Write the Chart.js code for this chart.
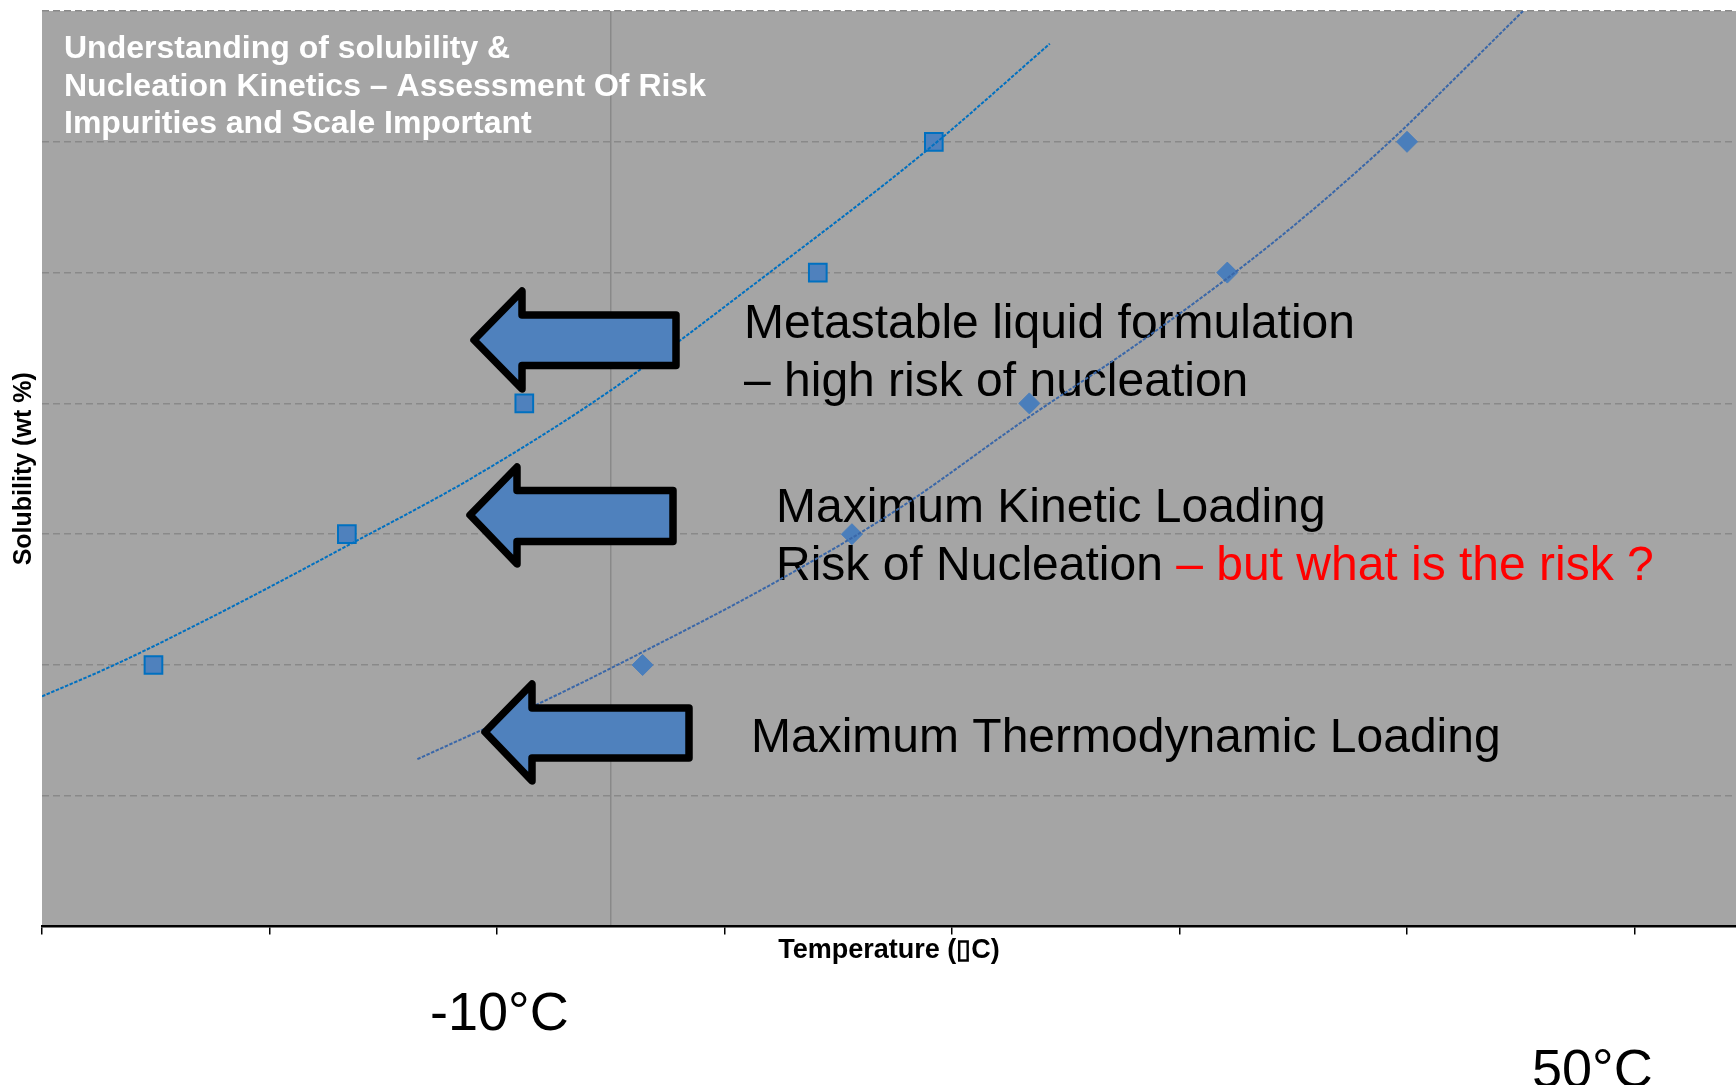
<!DOCTYPE html>
<html>
<head>
<meta charset="utf-8">
<title>Solubility vs temperature</title>
<script src="https://cdn.jsdelivr.net/npm/chart.js@4.4.0/dist/chart.umd.min.js"></script>
<style>
  html, body { margin: 0; padding: 0; background: #fff; overflow: hidden; }
  #wrap { position: relative; width: 1736px; height: 1085px; }
  #solChart { display: block; }
</style>
</head>
<body>
<div id="wrap"><canvas id="solChart"></canvas></div>
<script>
// Solubility (wt %) vs temperature
const xTicks = [-25, -15, -5, 5, 15, 25, 35, 45];
const axisCross = 0;

// squares - kinetic (metastable) limit
const kineticTemp = [-20.1, -11.6, -3.8, 9.1, 14.2];
const kineticSol = [2, 3, 4, 5, 6];
// diamonds - thermodynamic solubility
const thermoTemp = [1.4, 10.6, 18.4, 27.1, 35.0];
const thermoSol = [2, 3, 4, 5, 6];

// dotted trendlines
const kineticTrendTemp = [-25.0, -21.7, -17.5, -11.6, -6.0, 0.0, 6.9, 14.0, 19.3];
const kineticTrendSol = [1.76, 2.01, 2.37, 2.91, 3.44, 4.10, 4.99, 5.95, 6.75];
const thermoTrendTemp = [-8.5, -3.1, 1.3, 7.3, 12.7, 18.0, 23.6, 29.4, 34.3, 37.6, 40.1];
const thermoTrendSol = [1.28, 1.71, 2.09, 2.64, 3.20, 3.85, 4.51, 5.27, 6.01, 6.57, 7.00];

const FONT = "'Liberation Sans', Arial, sans-serif";

function toPoints(xs, ys) {
    return xs.map((x, i) => ({ x: x, y: ys[i] }));
}

// gray plot area like the Excel chart
const plotBackground = {
    id: 'plotBackground',
    beforeDraw(chart) {
        const { ctx, chartArea: a } = chart;
        ctx.save();
        ctx.fillStyle = '#A5A5A5';
        ctx.fillRect(a.left, a.top, a.right - a.left, a.bottom - a.top);
        ctx.restore();
    }
};

// slide texts (under the dotted lines) and block arrows (over them)
const slideTexts = [
    { text: 'Understanding of solubility &', x: 64, y: 58, size: 32, bold: true, color: '#fff' },
    { text: 'Nucleation Kinetics \u2013 Assessment Of Risk', x: 64, y: 95.5, size: 32, bold: true, color: '#fff' },
    { text: 'Impurities and Scale Important', x: 64, y: 133, size: 32, bold: true, color: '#fff' },
    { text: 'Metastable liquid formulation', x: 744, y: 338, size: 48, color: '#000' },
    { text: '\u2013 high risk of nucleation', x: 744, y: 396, size: 48, color: '#000' },
    { text: 'Maximum Kinetic Loading', x: 776, y: 522, size: 48, color: '#000' },
    { text: 'Risk of Nucleation ', x: 776, y: 580, size: 48, color: '#000', next: { text: '\u2013 but what is the risk ?', color: '#FF0000' } },
    { text: 'Maximum Thermodynamic Loading', x: 751, y: 752, size: 48, color: '#000' },
    { text: '-10\u00B0C', x: 430, y: 1030, size: 54, color: '#000' },
    { text: '50\u00B0C', x: 1532, y: 1087, size: 54, color: '#000' }
];

const arrows = [
    { tipX: 474, tipY: 340, headX: 522, headTop: 291, headBottom: 389, bodyTop: 315, bodyBottom: 365.5, right: 676 },
    { tipX: 470, tipY: 515, headX: 517, headTop: 467, headBottom: 564, bodyTop: 490.5, bodyBottom: 541.5, right: 673 },
    { tipX: 485, tipY: 732, headX: 532, headTop: 684, headBottom: 781, bodyTop: 708, bodyBottom: 758, right: 689 }
];

const slideOverlay = {
    id: 'slideOverlay',
    beforeDatasetsDraw(chart) {
        const ctx = chart.ctx;
        ctx.save();
        ctx.textBaseline = 'alphabetic';
        ctx.textAlign = 'left';
        slideTexts.forEach(t => {
            ctx.font = (t.bold ? 'bold ' : '') + t.size + 'px ' + FONT;
            ctx.fillStyle = t.color;
            ctx.fillText(t.text, t.x, t.y);
            if (t.next) {
                const w = ctx.measureText(t.text).width;
                ctx.fillStyle = t.next.color;
                ctx.fillText(t.next.text, t.x + w, t.y);
            }
        });
        ctx.restore();
    },
    afterDatasetsDraw(chart) {
        const ctx = chart.ctx;
        ctx.save();
        ctx.lineWidth = 7.5;
        ctx.lineJoin = 'round';
        ctx.strokeStyle = '#000';
        ctx.fillStyle = '#4F81BD';
        arrows.forEach(a => {
            ctx.beginPath();
            ctx.moveTo(a.tipX, a.tipY);
            ctx.lineTo(a.headX, a.headTop);
            ctx.lineTo(a.headX, a.bodyTop);
            ctx.lineTo(a.right, a.bodyTop);
            ctx.lineTo(a.right, a.bodyBottom);
            ctx.lineTo(a.headX, a.bodyBottom);
            ctx.lineTo(a.headX, a.headBottom);
            ctx.closePath();
            ctx.fill();
            ctx.stroke();
        });
        ctx.restore();
    }
};

const ctx = document.getElementById('solChart').getContext('2d');
const solChart = new Chart(ctx, {
    type: 'scatter',
    data: {
        datasets: [
            {
                type: 'line',
                label: 'Kinetic trend',
                data: toPoints(kineticTrendTemp, kineticTrendSol),
                borderColor: '#0070C0',
                borderWidth: 2,
                borderDash: [3.5, 1.5],
                pointRadius: 0,
                fill: false,
                cubicInterpolationMode: 'monotone',
                order: 0
            },
            {
                type: 'line',
                label: 'Thermodynamic trend',
                data: toPoints(thermoTrendTemp, thermoTrendSol),
                borderColor: '#3A67A8',
                borderWidth: 2,
                borderDash: [3.5, 1.5],
                pointRadius: 0,
                fill: false,
                cubicInterpolationMode: 'monotone',
                order: 0
            },
            {
                label: 'Kinetic',
                data: toPoints(kineticTemp, kineticSol),
                pointStyle: 'rect',
                pointRadius: 12.5,
                backgroundColor: '#4F81BD',
                borderColor: '#0070C0',
                borderWidth: 2,
                order: 1
            },
            {
                label: 'Thermodynamic',
                data: toPoints(thermoTemp, thermoSol),
                pointStyle: 'rectRot',
                pointRadius: 10.5,
                backgroundColor: '#4A7EBB',
                borderColor: '#4A7EBB',
                borderWidth: 1,
                order: 1
            }
        ]
    },
    options: {
        responsive: true,
        maintainAspectRatio: false,
        animation: false,
        layout: { autoPadding: false, padding: { top: 11, right: 0, bottom: 0, left: 0 } },
        plugins: {
            legend: { display: false },
            tooltip: { enabled: false }
        },
        scales: {
            x: {
                type: 'linear',
                min: -25,
                max: 49.46,
                afterBuildTicks: (scale) => {
                    scale.ticks = xTicks.concat([axisCross]).sort((a, b) => a - b).map(v => ({ value: v }));
                },
                ticks: { display: false },
                grid: {
                    drawOnChartArea: true,
                    drawTicks: true,
                    tickLength: 8,
                    lineWidth: 1.5,
                    tickWidth: 1.5,
                    color: (c) => (c.tick && c.tick.value === axisCross) ? '#898989' : 'rgba(0,0,0,0)',
                    tickColor: (c) => (c.tick && c.tick.value === axisCross) ? 'rgba(0,0,0,0)' : '#000'
                },
                border: { display: true, color: '#000', width: 2.5 },
                title: {
                    display: true,
                    text: 'Temperature (\u25AFC)',
                    color: '#000',
                    font: { family: FONT, size: 27, weight: 'bold' },
                    padding: { top: 0, bottom: 118 }
                }
            },
            y: {
                type: 'linear',
                min: 0,
                max: 7,
                ticks: { display: false, stepSize: 1 },
                grid: {
                    drawTicks: false,
                    lineWidth: 1.5,
                    color: (c) => (c.tick && c.tick.value === 0) ? 'rgba(0,0,0,0)' : '#898989'
                },
                border: { display: false, dash: [7, 4] },
                title: {
                    display: true,
                    text: 'Solubility (wt %)',
                    color: '#000',
                    font: { family: FONT, size: 25, weight: 'bold' },
                    padding: { top: 9.4, bottom: 2.6 }
                }
            }
        }
    },
    plugins: [plotBackground, slideOverlay]
});
</script>
</body>
</html>
